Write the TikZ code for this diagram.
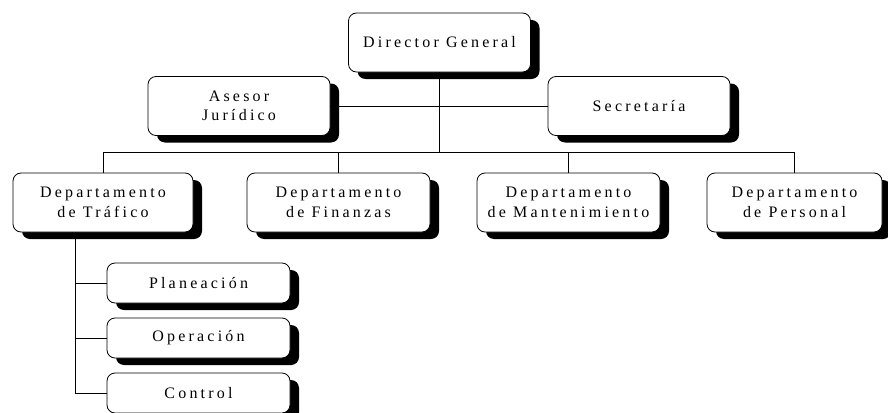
\documentclass[tikz,border=0pt]{standalone}
\usepackage{fontspec}
\setmainfont[LetterSpace=20]{Liberation Serif}
\usepackage{tikz}
\usetikzlibrary{shadows,calc}
\tikzset{caja/.style={draw,line width=0.8pt,rounded corners=8pt,fill=white,align=center,
  minimum width=182pt,minimum height=59pt,inner sep=0pt,
  drop shadow={shadow xshift=9pt,shadow yshift=-7pt,fill=black,opacity=1},
  font=\fontsize{16}{19.5}\selectfont},
  sub/.style={caja,minimum height=40pt},
  linea/.style={line width=0.8pt}}
\begin{document}
\begin{tikzpicture}[x=1pt,y=-1pt]
\useasboundingbox (0,0) rectangle (888,412);
\fill[white](0,0) rectangle (888,412);
\coordinate (bus) at (0,152);
\coordinate (eje) at (75,0);
\node[caja] (dir) at (439.5,42.5) {Director General};
\node[caja] (ase) at (239,106) {Asesor\\Jurídico};
\node[caja] (sec) at (639,106) {Secretaría};
\node[caja,minimum width=180pt] (tra) at (103,202.5) {Departamento\\de Tráfico};
\node[caja,minimum width=183pt] (fin) at (338.5,202.5) {Departamento\\de Finanzas};
\node[caja,minimum width=183pt] (man) at (568.5,202.5) {Departamento\\de Mantenimiento};
\node[caja,minimum width=175pt] (per) at (794.5,202.5) {Departamento\\de Personal};
\node[sub,minimum width=183pt] (pla) at (198.5,283) {Planeación};
\node[sub,minimum width=183pt] (ope) at (198.5,338) {Operación};
\node[sub,minimum width=183pt] (con) at (198.5,393) {Control};
\draw[linea](ase.east)--(sec.west);
\draw[linea](dir.south)--(dir.south|-bus);
\draw[linea](tra.north)|-(per.north|-bus)--(per.north);
\foreach \n in {fin,man} \draw[linea](\n.north)--(\n.north|-bus);
\draw[linea](tra.south-|eje)|-(con.west);
\foreach \n in {pla,ope} \draw[linea](\n.west-|eje)--(\n.west);
\end{tikzpicture}
\end{document}
